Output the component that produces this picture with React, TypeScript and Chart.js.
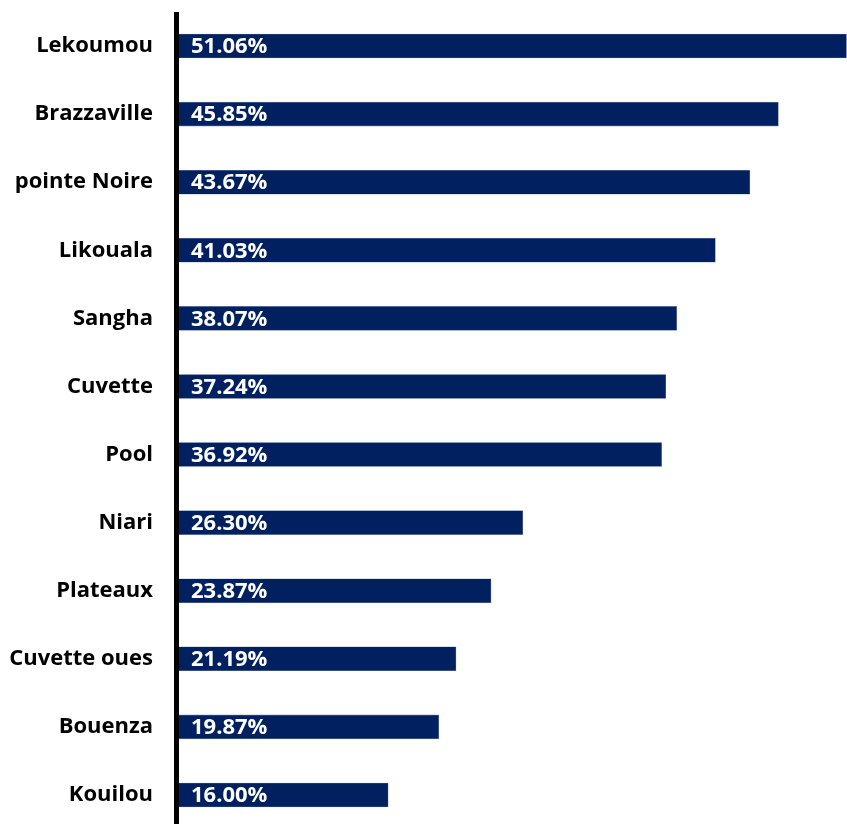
import React, { useEffect, useRef } from "react";
import { Chart, registerables } from "chart.js";

Chart.register(...registerables);

const categories = [
  "Lekoumou",
  "Brazzaville",
  "pointe Noire",
  "Likouala",
  "Sangha",
  "Cuvette",
  "Pool",
  "Niari",
  "Plateaux",
  "Cuvette oues",
  "Bouenza",
  "Kouilou",
];
const values = [51.06, 45.85, 43.67, 41.03, 38.07, 37.24, 36.92, 26.3, 23.87, 21.19, 19.87, 16.0];

const FONT = "'Open Sans', Lato, sans-serif";

const labelPlugin = {
  id: "barLabels",
  afterDatasetsDraw(chart: any) {
    const ctx = chart.ctx;
    const meta = chart.getDatasetMeta(0);
    ctx.save();
    ctx.font = `bold 22px ${FONT}`;
    ctx.fillStyle = "#ffffff";
    ctx.textAlign = "left";
    ctx.textBaseline = "middle";
    meta.data.forEach((bar: any, i: number) => {
      ctx.fillText(values[i].toFixed(2) + "%", bar.base + 12, bar.y + 1);
    });
    ctx.restore();
  },
};

const axisLinePlugin = {
  id: "axisLine",
  afterDraw(chart: any) {
    const { ctx, chartArea } = chart;
    ctx.save();
    ctx.strokeStyle = "#000000";
    ctx.lineWidth = 5;
    ctx.beginPath();
    ctx.moveTo(chartArea.left - 2.5, chartArea.top);
    ctx.lineTo(chartArea.left - 2.5, chartArea.bottom + 5);
    ctx.stroke();
    ctx.restore();
  },
};

export default function App() {
  const ref = useRef<HTMLCanvasElement>(null);
  useEffect(() => {
    if (!ref.current) return;
    const chart = new Chart(ref.current, {
      type: "bar",
      data: {
        labels: categories,
        datasets: [
          {
            data: values,
            backgroundColor: "#002060",
            borderColor: "#6f82ad",
            borderWidth: 0.6,
            barThickness: 24,
          },
        ],
      },
      options: {
        indexAxis: "y",
        animation: false,
        responsive: false,
        maintainAspectRatio: false,
        layout: { padding: { top: 12, bottom: 1, left: 0, right: 0 } },
        plugins: {
          legend: { display: false },
          tooltip: { enabled: false },
        },
        scales: {
          x: {
            display: false,
            min: 0,
            max: 51.1,
          },
          y: {
            grid: { display: false, drawTicks: false },
            border: { display: false },
            ticks: {
              color: "#000000",
              padding: 26,
              font: { family: FONT, weight: "bold", size: 22 },
            },
            afterFit(scale: any) {
              scale.width = 179;
              scale.paddingTop = 0;
              scale.paddingBottom = 0;
            },
          },
        },
      },
      plugins: [labelPlugin, axisLinePlugin],
    });
    return () => chart.destroy();
  }, []);
  return (
    <div
      style={{
        position: "fixed",
        left: 0,
        top: 0,
        width: 847,
        height: 824,
        overflow: "hidden",
        background: "#ffffff",
      }}
    >
      <canvas ref={ref} width={847} height={830} style={{ display: "block" }} />
    </div>
  );
}
